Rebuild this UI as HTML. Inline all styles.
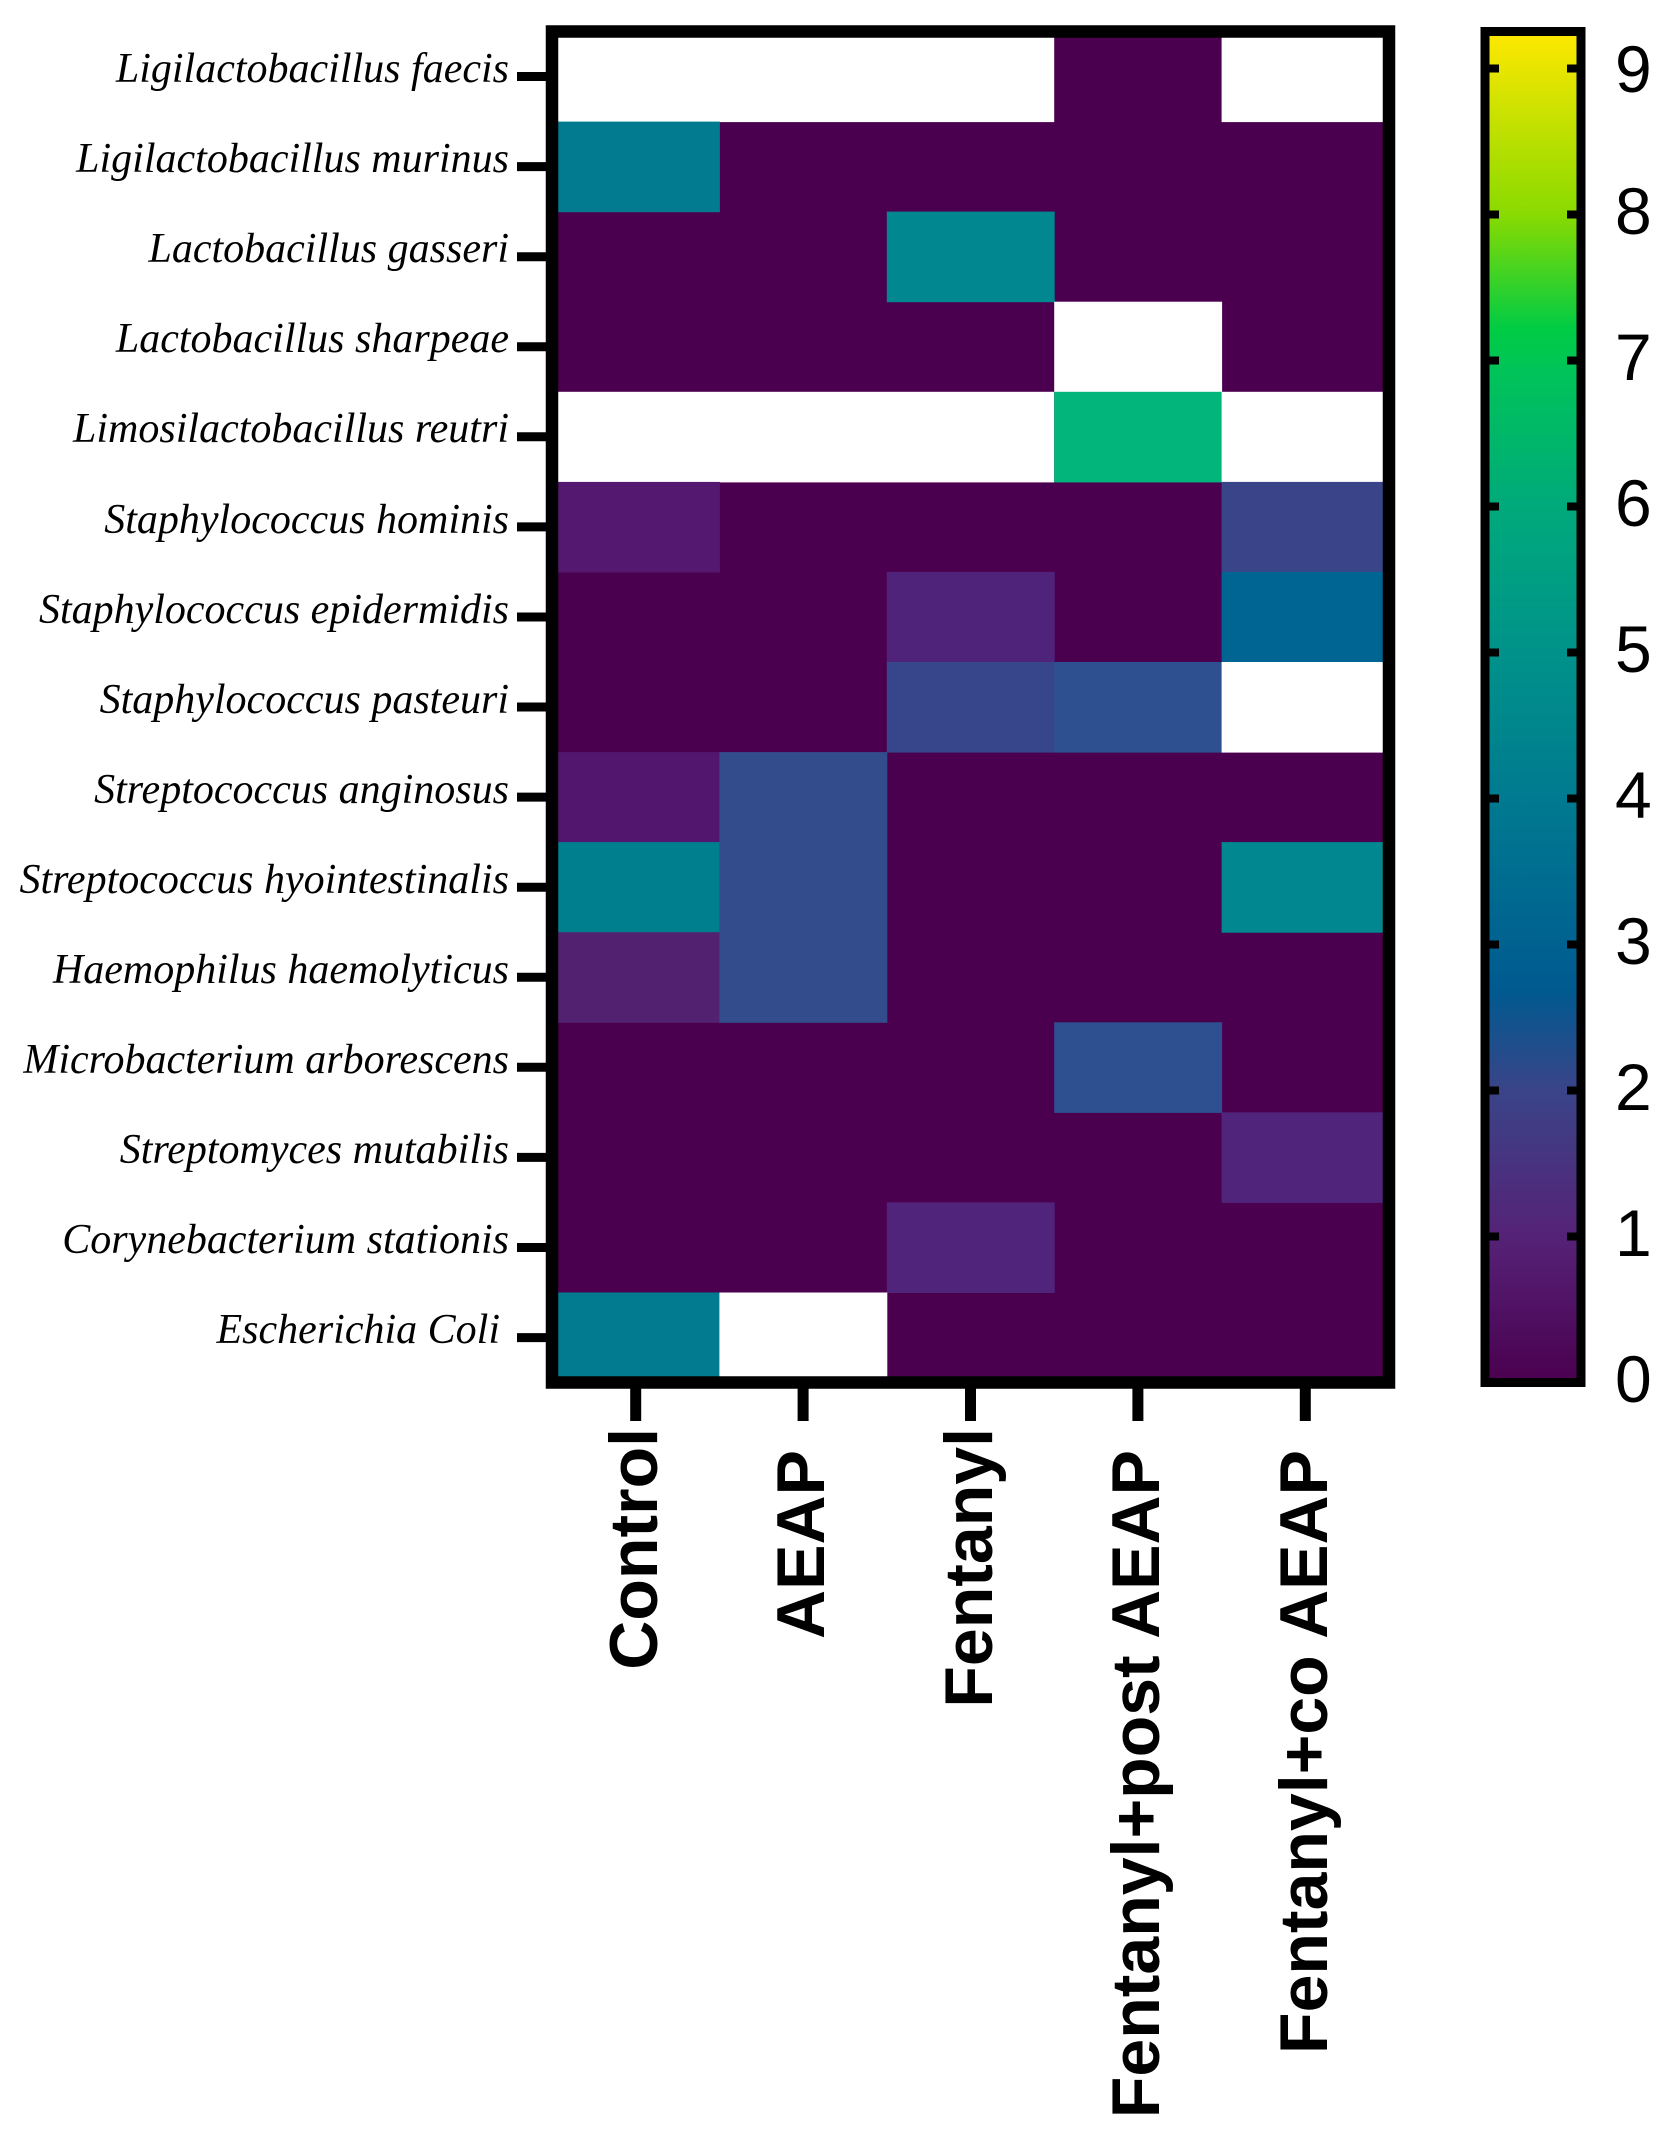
<!DOCTYPE html>
<html><head><meta charset="utf-8"><style>html,body{margin:0;padding:0;background:#fff}svg{display:block}</style></head>
<body>
<svg width="1675" height="2133" viewBox="0 0 1675 2133" xmlns="http://www.w3.org/2000/svg">
<defs>
<linearGradient id="cb" x1="0" y1="1" x2="0" y2="0">
<stop offset="0" stop-color="#4b004f"/>
<stop offset="0.108" stop-color="#552277"/>
<stop offset="0.216" stop-color="#3a4488"/>
<stop offset="0.29" stop-color="#005a90"/>
<stop offset="0.432" stop-color="#007a90"/>
<stop offset="0.54" stop-color="#00928a"/>
<stop offset="0.65" stop-color="#00aa7a"/>
<stop offset="0.75" stop-color="#00c458"/>
<stop offset="0.78" stop-color="#00cc44"/>
<stop offset="0.865" stop-color="#8ada00"/>
<stop offset="1" stop-color="#ffe800"/>
</linearGradient>
</defs>
<rect x="552" y="31.5" width="837" height="1351" fill="#4b004f"/>
<!-- row 0 -->
<rect x="552" y="31.5" width="502.2" height="90.6" fill="#fff"/>
<rect x="1221.6" y="31.5" width="167.4" height="90.6" fill="#fff"/>
<!-- row 1 -->
<rect x="552" y="121.6" width="167.9" height="90.6" fill="#027a90"/>
<!-- row 2 -->
<rect x="886.8" y="211.6" width="167.9" height="90.6" fill="#00878f"/>
<!-- row 3 -->
<rect x="1054.2" y="301.7" width="167.9" height="90.6" fill="#fff"/>
<!-- row 4 -->
<rect x="552" y="391.8" width="502.2" height="90.6" fill="#fff"/>
<rect x="1054.2" y="391.8" width="167.9" height="90.6" fill="#02b57a"/>
<rect x="1221.6" y="391.8" width="167.4" height="90.6" fill="#fff"/>
<!-- row 5 -->
<rect x="552" y="481.9" width="167.9" height="90.6" fill="#541870"/>
<rect x="1221.6" y="481.9" width="167.4" height="90.6" fill="#3a4488"/>
<!-- row 6 -->
<rect x="886.8" y="571.9" width="167.9" height="90.6" fill="#50237a"/>
<rect x="1221.6" y="571.9" width="167.4" height="90.6" fill="#006592"/>
<!-- row 7 -->
<rect x="886.8" y="662" width="167.9" height="90.6" fill="#37468a"/>
<rect x="1054.2" y="662" width="167.9" height="90.6" fill="#2e5090"/>
<rect x="1221.6" y="662" width="167.4" height="90.6" fill="#fff"/>
<!-- row 8 -->
<rect x="552" y="752.1" width="167.9" height="90.6" fill="#52166e"/>
<rect x="719.4" y="752.1" width="167.9" height="90.6" fill="#324c8c"/>
<!-- row 9 -->
<rect x="552" y="842.1" width="167.9" height="90.6" fill="#00808f"/>
<rect x="719.4" y="842.1" width="167.9" height="90.6" fill="#324c8c"/>
<rect x="1221.6" y="842.1" width="167.4" height="90.6" fill="#00878f"/>
<!-- row 10 -->
<rect x="552" y="932.2" width="167.9" height="90.6" fill="#522270"/>
<rect x="719.4" y="932.2" width="167.9" height="90.6" fill="#324c8c"/>
<!-- row 11 -->
<rect x="1054.2" y="1022.3" width="167.9" height="90.6" fill="#2e5090"/>
<!-- row 12 -->
<rect x="1221.6" y="1112.3" width="167.4" height="90.6" fill="#50247a"/>
<!-- row 13 -->
<rect x="886.8" y="1202.4" width="167.9" height="90.6" fill="#50247a"/>
<!-- row 14 -->
<rect x="552" y="1292.5" width="167.9" height="90" fill="#027a90"/>
<rect x="719.4" y="1292.5" width="167.9" height="90" fill="#fff"/>

<rect x="552" y="31.5" width="837" height="1351" fill="none" stroke="#000" stroke-width="12.5"/>
<g stroke="#000" stroke-width="9">
<line x1="517" x2="547" y1="76.5" y2="76.5"/><line x1="517" x2="547" y1="166.6" y2="166.6"/><line x1="517" x2="547" y1="256.7" y2="256.7"/><line x1="517" x2="547" y1="346.7" y2="346.7"/><line x1="517" x2="547" y1="436.8" y2="436.8"/><line x1="517" x2="547" y1="526.9" y2="526.9"/><line x1="517" x2="547" y1="617" y2="617"/><line x1="517" x2="547" y1="707" y2="707"/><line x1="517" x2="547" y1="797.1" y2="797.1"/><line x1="517" x2="547" y1="887.2" y2="887.2"/><line x1="517" x2="547" y1="977.3" y2="977.3"/><line x1="517" x2="547" y1="1067.3" y2="1067.3"/><line x1="517" x2="547" y1="1157.4" y2="1157.4"/><line x1="517" x2="547" y1="1247.5" y2="1247.5"/><line x1="517" x2="547" y1="1337.6" y2="1337.6"/>
</g>
<g stroke="#000" stroke-width="11">
<line x1="635.7" x2="635.7" y1="1387" y2="1421"/><line x1="803.1" x2="803.1" y1="1387" y2="1421"/><line x1="970.5" x2="970.5" y1="1387" y2="1421"/><line x1="1137.9" x2="1137.9" y1="1387" y2="1421"/><line x1="1305.3" x2="1305.3" y1="1387" y2="1421"/>
</g>
<g font-family="Liberation Serif, serif" font-style="italic" font-size="42" text-anchor="end" fill="#000">
<text x="509" y="82">Ligilactobacillus faecis</text>
<text x="509" y="172">Ligilactobacillus murinus</text>
<text x="509" y="262">Lactobacillus gasseri</text>
<text x="509" y="352">Lactobacillus sharpeae</text>
<text x="509" y="442">Limosilactobacillus reutri</text>
<text x="509" y="533">Staphylococcus hominis</text>
<text x="509" y="623">Staphylococcus epidermidis</text>
<text x="509" y="713">Staphylococcus pasteuri</text>
<text x="509" y="803">Streptococcus anginosus</text>
<text x="509" y="893">Streptococcus hyointestinalis</text>
<text x="509" y="983">Haemophilus haemolyticus</text>
<text x="509" y="1073">Microbacterium arborescens</text>
<text x="509" y="1163">Streptomyces mutabilis</text>
<text x="509" y="1253">Corynebacterium stationis</text>
<text x="500" y="1343">Escherichia Coli</text>
</g>
<g font-family="Liberation Sans, sans-serif" font-weight="bold" font-size="68" text-anchor="end" fill="#000">
<text transform="translate(657,1428) rotate(-90)">Control</text>
<text transform="translate(824,1450) rotate(-90)">AEAP</text>
<text transform="translate(992,1428) rotate(-90)">Fentanyl</text>
<text transform="translate(1159,1450) rotate(-90)">Fentanyl+post AEAP</text>
<text transform="translate(1327,1450) rotate(-90)">Fentanyl+co AEAP</text>
</g>
<rect x="1485" y="31.5" width="96" height="1351" fill="url(#cb)" stroke="#000" stroke-width="9"/>
<g stroke="#000" stroke-width="8">
<line x1="1489" x2="1499" y1="1236.5" y2="1236.5"/><line x1="1567" x2="1577" y1="1236.5" y2="1236.5"/>
<line x1="1489" x2="1499" y1="1090.5" y2="1090.5"/><line x1="1567" x2="1577" y1="1090.5" y2="1090.5"/>
<line x1="1489" x2="1499" y1="944.5" y2="944.5"/><line x1="1567" x2="1577" y1="944.5" y2="944.5"/>
<line x1="1489" x2="1499" y1="798.5" y2="798.5"/><line x1="1567" x2="1577" y1="798.5" y2="798.5"/>
<line x1="1489" x2="1499" y1="652.5" y2="652.5"/><line x1="1567" x2="1577" y1="652.5" y2="652.5"/>
<line x1="1489" x2="1499" y1="506.5" y2="506.5"/><line x1="1567" x2="1577" y1="506.5" y2="506.5"/>
<line x1="1489" x2="1499" y1="360.5" y2="360.5"/><line x1="1567" x2="1577" y1="360.5" y2="360.5"/>
<line x1="1489" x2="1499" y1="214.5" y2="214.5"/><line x1="1567" x2="1577" y1="214.5" y2="214.5"/>
<line x1="1489" x2="1499" y1="68.5" y2="68.5"/><line x1="1567" x2="1577" y1="68.5" y2="68.5"/>
</g>
<g font-family="Liberation Sans, sans-serif" font-size="66" fill="#000" text-anchor="start">
<text x="1615" y="1402">0</text>
<text x="1615" y="1256">1</text>
<text x="1615" y="1110">2</text>
<text x="1615" y="964">3</text>
<text x="1615" y="818">4</text>
<text x="1615" y="672">5</text>
<text x="1615" y="526">6</text>
<text x="1615" y="380">7</text>
<text x="1615" y="234">8</text>
<text x="1615" y="92">9</text>
</g>
</svg>
</body></html>
